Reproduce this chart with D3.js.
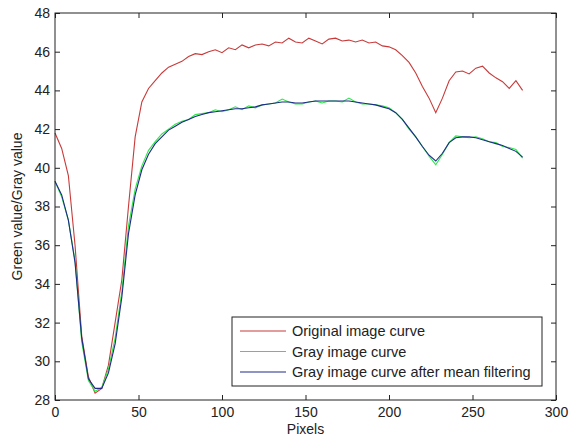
<!DOCTYPE html>
<html>
<head>
<meta charset="utf-8">
<script src="https://cdn.jsdelivr.net/npm/d3@7"></script>
<style>
  html, body { margin: 0; padding: 0; background: #fff; }
  svg { display: block; font-family: "Liberation Sans", Arial, sans-serif; }
</style>
</head>
<body>
<svg id="chart"></svg>
<script>
// pixel positions sampled along the curves
const pixels = d3.range(0, 281, 4);

const originalCurve = [
  41.8, 41.0, 39.6, 36.0, 31.3, 29.2, 28.35, 28.6, 29.8, 32.0,
  34.2, 38.0, 41.6, 43.4, 44.1, 44.5, 44.9, 45.2, 45.35, 45.5,
  45.75, 45.9, 45.85, 46.0, 46.1, 45.95, 46.2, 46.1, 46.35, 46.2,
  46.35, 46.4, 46.3, 46.5, 46.45, 46.7, 46.5, 46.45, 46.7, 46.55,
  46.4, 46.65, 46.7, 46.55, 46.6, 46.5, 46.6, 46.45, 46.5, 46.3,
  46.25, 46.1, 45.8, 45.45, 44.9, 44.2, 43.6, 42.85, 43.6, 44.5,
  44.95, 45.0, 44.85, 45.15, 45.25, 44.9, 44.65, 44.45, 44.1, 44.5,
  44.0
];

const grayCurve = [
  39.3, 38.5, 37.3, 35.2, 31.0, 29.0, 28.45, 28.65, 29.6, 31.2,
  33.6, 37.0, 38.9, 40.1, 40.9, 41.35, 41.75, 42.0, 42.25, 42.4,
  42.5, 42.75, 42.8, 42.85, 43.0, 42.9, 43.0, 43.15, 43.0, 43.2,
  43.1, 43.25, 43.3, 43.35, 43.55, 43.4, 43.3, 43.3, 43.4, 43.45,
  43.35, 43.45, 43.45, 43.4, 43.6, 43.4, 43.3, 43.3, 43.25, 43.2,
  43.1, 42.85, 42.5, 42.0, 41.6, 41.1, 40.6, 40.15, 40.7, 41.3,
  41.65, 41.6, 41.55, 41.6, 41.5, 41.35, 41.3, 41.1, 41.05, 40.95,
  40.5
];

const filteredCurve = [
  39.3, 38.6, 37.3, 35.1, 31.2, 29.1, 28.6, 28.6, 29.4, 30.9,
  33.3, 36.6, 38.6, 39.9, 40.7, 41.25, 41.6, 41.95, 42.15, 42.35,
  42.5, 42.65, 42.75, 42.85, 42.9, 42.95, 43.0, 43.05, 43.05, 43.1,
  43.15, 43.25, 43.3, 43.35, 43.4, 43.4, 43.35, 43.35, 43.4, 43.45,
  43.45, 43.45, 43.45, 43.45, 43.45, 43.4, 43.35, 43.3, 43.25, 43.15,
  43.05, 42.85, 42.5, 42.05, 41.6, 41.1, 40.65, 40.35, 40.75, 41.3,
  41.55, 41.6, 41.6, 41.55, 41.45, 41.35, 41.25, 41.15, 41.0, 40.85,
  40.55
];

const seriesNames = ["Original image curve", "Gray image curve", "Gray image curve after mean filtering"];
const seriesColors = ["#c83a3a", "#2ee84a", "#1f2a8a"];
const xTicks = [0, 50, 100, 150, 200, 250, 300];
const yTicks = [28, 30, 32, 34, 36, 38, 40, 42, 44, 46, 48];

const W = 572, H = 441;
const margin = { top: 13, right: 16, bottom: 41, left: 55 };
const width = W - margin.left - margin.right;
const height = H - margin.top - margin.bottom;

const svg = d3.select("#chart").attr("width", W).attr("height", H);
const g = svg.append("g").attr("transform", `translate(${margin.left},${margin.top})`);

const x = d3.scaleLinear().domain([0, 300]).range([0, width]);
const y = d3.scaleLinear().domain([28, 48]).range([height, 0]);

// curves
const line = d3.line().x(d => x(d[0])).y(d => y(d[1]));
[originalCurve, grayCurve, filteredCurve].forEach((vals, i) => {
  g.append("path")
    .datum(pixels.map((p, j) => [p, vals[j]]))
    .attr("fill", "none")
    .attr("stroke", seriesColors[i])
    .attr("stroke-width", 1.1)
    .attr("d", line);
});

// axes (ticks inside, mirrored on top/right)
const tickLen = 5;
function styleAxis(sel) {
  sel.select(".domain").remove();
  sel.selectAll("line").attr("stroke", "#222");
  sel.selectAll("text").attr("fill", "#222").style("font-size", "14px");
}
g.append("g").attr("transform", `translate(0,${height})`)
  .call(d3.axisBottom(x).tickValues(xTicks).tickSizeInner(-tickLen).tickSizeOuter(0).tickPadding(7))
  .call(styleAxis);
g.append("g")
  .call(d3.axisTop(x).tickValues(xTicks).tickSizeInner(-tickLen).tickSizeOuter(0).tickFormat(""))
  .call(styleAxis);
g.append("g")
  .call(d3.axisLeft(y).tickValues(yTicks).tickSizeInner(-tickLen).tickSizeOuter(0).tickPadding(5))
  .call(styleAxis);
g.append("g").attr("transform", `translate(${width},0)`)
  .call(d3.axisRight(y).tickValues(yTicks).tickSizeInner(-tickLen).tickSizeOuter(0).tickFormat(""))
  .call(styleAxis);

g.append("rect")
  .attr("width", width).attr("height", height)
  .attr("fill", "none").attr("stroke", "#222").attr("stroke-width", 1);

// axis labels
svg.append("text")
  .attr("x", margin.left + width / 2)
  .attr("y", H - 7)
  .attr("text-anchor", "middle")
  .style("font-size", "14px")
  .attr("fill", "#222")
  .text("Pixels");

svg.append("text")
  .attr("transform", `translate(22,${margin.top + height / 2}) rotate(-90)`)
  .attr("text-anchor", "middle")
  .style("font-size", "14px")
  .attr("fill", "#222")
  .text("Green value/Gray value");

// legend
const legend = svg.append("g").attr("transform", "translate(232,317)");
legend.append("rect")
  .attr("width", 310).attr("height", 69)
  .attr("fill", "#fff").attr("stroke", "#222").attr("stroke-width", 1);
seriesNames.forEach((name, i) => {
  const ly = 14 + i * 20.5;
  legend.append("line")
    .attr("x1", 8).attr("x2", 54).attr("y1", ly).attr("y2", ly)
    .attr("stroke", seriesColors[i]).attr("stroke-width", 1.1);
  legend.append("text")
    .attr("x", 60).attr("y", ly)
    .attr("dy", "0.35em")
    .style("font-size", "14.5px")
    .attr("fill", "#222")
    .text(name);
});
</script>
</body>
</html>
